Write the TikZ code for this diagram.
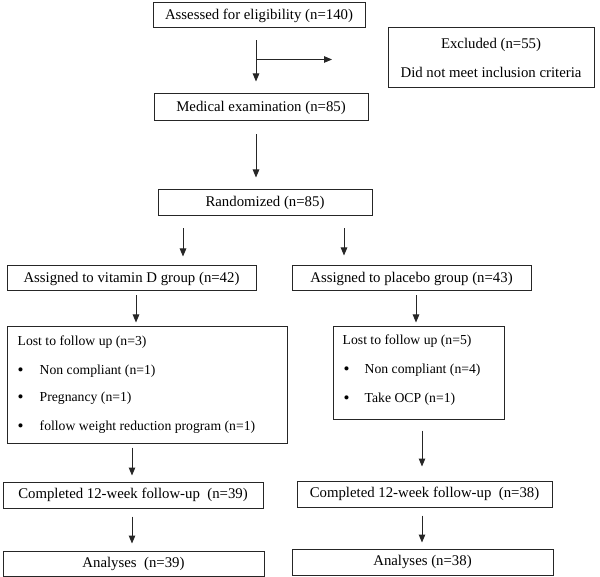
\documentclass[tikz,border=0pt]{standalone}
\usepackage{fontspec}
\setmainfont{Liberation Serif}
\usetikzlibrary{arrows.meta,calc}
\begin{document}
\begin{tikzpicture}[x=1pt,y=-1pt,
  box/.style={draw=black!85, line width=1pt, rectangle, inner sep=0pt, font=\fontsize{14.8}{17.8}\selectfont},
  arr/.style={draw=black!85, line width=1pt, -{Triangle[length=8pt,width=6.5pt]}},
  txt/.style={inner sep=0pt, anchor=west, font=\fontsize{13.7}{16}\selectfont},
  bul/.style={inner sep=0pt, font=\fontsize{17}{18}\selectfont}]
\useasboundingbox (0,0) rectangle (600,577);

\node[box, minimum width=212pt, minimum height=25pt] (assess) at (259,15.5) {Assessed for eligibility (n=140)};
\node[box, minimum width=206pt, minimum height=60pt, align=center] (excl) at (491,58) {Excluded (n=55)\\[12pt]Did not meet inclusion criteria};
\node[box, minimum width=214pt, minimum height=27pt] (med) at (261,107.5) {Medical examination (n=85)};
\node[box, minimum width=214pt, minimum height=26pt] (rand) at (265,203) {Randomized (n=85)};
\node[box, minimum width=249pt, minimum height=25pt] (vitD) at (131.5,278.5) {Assigned to vitamin D group (n=42)};
\node[box, minimum width=239pt, minimum height=25pt] (plac) at (411.5,278.5) {Assigned to placebo group (n=43)};
\node[box, minimum width=280pt, minimum height=116pt] (lostA) at (147,385) {};
\node[box, minimum width=171pt, minimum height=92pt] (lostB) at (418.5,373) {};
\node[box, minimum width=260pt, minimum height=26pt] (compA) at (133,495) {Completed 12-week follow-up\ \ (n=39)};
\node[box, minimum width=255pt, minimum height=26pt] (compB) at (424.5,494) {Completed 12-week follow-up\ \ (n=38)};
\node[box, minimum width=261pt, minimum height=25pt] (anaA) at (133.5,563.5) {Analyses\ \ (n=39)};
\node[box, minimum width=261pt, minimum height=26pt] (anaB) at (422.5,562) {Analyses (n=38)};

% lost A text
\node[txt] (la0) at ($(lostA.north west)+(11,16)$) {Lost to follow up (n=3)};
\node[bul] (lab1) at ($(lostA.north west)+(14,45)$) {•};
\node[txt] (la1) at ($(lostA.north west)+(33,45)$) {Non compliant (n=1)};
\node[bul] (lab2) at ($(lostA.north west)+(14,72)$) {•};
\node[txt] (la2) at ($(lostA.north west)+(33,72)$) {Pregnancy (n=1)};
\node[bul] (lab3) at ($(lostA.north west)+(14,101)$) {•};
\node[txt] (la3) at ($(lostA.north west)+(33,101)$) {follow weight reduction program (n=1)};

% lost B text
\node[txt] (lb0) at ($(lostB.north west)+(10,15)$) {Lost to follow up (n=5)};
\node[bul] (lbb1) at ($(lostB.north west)+(14,44)$) {•};
\node[txt] (lb1) at ($(lostB.north west)+(32,44)$) {Non compliant (n=4)};
\node[bul] (lbb2) at ($(lostB.north west)+(14,73)$) {•};
\node[txt] (lb2) at ($(lostB.north west)+(32,73)$) {Take OCP (n=1)};

% arrows
\draw[arr] ($(assess.south)+(-3,12)$) -- ++(0,41);
\draw[arr] ($(assess.south)+(-3,31)$) -- ++(76,0);
\draw[arr] ($(med.south)+(-5,13)$) -- ++(0,43);
\draw[arr] ($(rand.south)+(-82,12)$) -- ++(0,28);
\draw[arr] ($(rand.south)+(79,12)$) -- ++(0,27);
\draw[arr] ($(vitD.south)+(4.5,4)$) -- ++(0,27);
\draw[arr] ($(plac.south)+(4.5,4)$) -- ++(0,27);
\draw[arr] ($(lostA.south)+(-15,4)$) -- ++(0,28);
\draw[arr] ($(lostB.south)+(3.5,11)$) -- ++(0,36);
\draw[arr] ($(compA.south)+(-1,8)$) -- ++(0,27);
\draw[arr] ($(compB.south)+(-2.5,8)$) -- ++(0,27);
\end{tikzpicture}
\end{document}
